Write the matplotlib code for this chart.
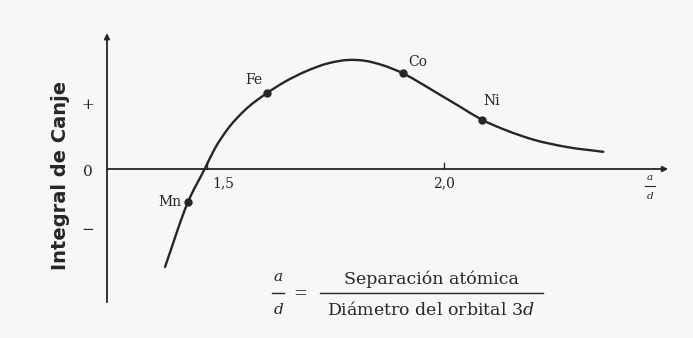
import numpy as np
import matplotlib
matplotlib.use("Agg")
import matplotlib.pyplot as plt
from matplotlib.path import Path
from matplotlib.patches import PathPatch

plt.rcParams["mathtext.fontset"] = "custom"
plt.rcParams["mathtext.it"] = "DejaVu Serif:italic"
plt.rcParams["mathtext.rm"] = "DejaVu Serif"

# Bethe-Slater curve: exchange integral versus a/d
curve_x = [1.4114, 1.4599, 1.4958, 1.5169, 1.5449, 1.5802, 1.6259, 1.6646,
           1.7068, 1.7559, 1.7981, 1.8333, 1.8719, 1.9141, 1.9494, 1.9846,
           2.0338, 2.0795, 2.1323, 2.1884, 2.2589, 2.3361]
curve_y = [-1.420, -0.478, 0.010, 0.300, 0.590, 0.855, 1.097, 1.265,
           1.410, 1.532, 1.580, 1.568, 1.501, 1.384, 1.249, 1.104,
           0.903, 0.716, 0.558, 0.426, 0.319, 0.249]

elements = ["Mn", "Fe", "Co", "Ni"]
elem_x = [1.4599, 1.6259, 1.9141, 2.0795]
elem_y = [-0.478, 1.097, 1.384, 0.716]

x_ticks = [1.5, 2.0]
x_tick_labels = ["1,5", "2,0"]
y_ticks = [0.93, -0.04, -0.88]
y_tick_labels = ["+", "0", "\u2212"]

INK = "#262626"
BG = "#f7f7f5"
SERIF = ["DejaVu Serif"]

fig = plt.figure(figsize=(6.93, 3.38), dpi=100, facecolor=BG)
ax = fig.add_axes([0, 0, 1, 1])
ax.set_facecolor(BG)
ax.set_xlim(1.5 - 207 / 474, 1.5 + 486 / 474)
ax.set_ylim(-2.449, 2.449)
ax.axis("off")

# axes with arrowheads
x0, x1 = 1.289, 2.473
y0, y1 = -1.93, 1.97
ax.annotate("", xy=(x0, y1), xytext=(x0, y0),
            arrowprops=dict(arrowstyle="-|>", color=INK, lw=1.3,
                            mutation_scale=8, shrinkA=0, shrinkB=0))
ax.annotate("", xy=(x1, 0), xytext=(x0, 0),
            arrowprops=dict(arrowstyle="-|>", color=INK, lw=1.3,
                            mutation_scale=8, shrinkA=0, shrinkB=0))

# x ticks (short marks above the axis) and labels
for xt, lab in zip(x_ticks, x_tick_labels):
    ax.plot([xt, xt], [0, 0.08], color=INK, lw=1.0)
    ax.text(xt + (0.035 if xt == 1.5 else 0.0), -0.21, lab, ha="center",
            va="center", fontsize=10, family=SERIF, color=INK)

# y tick labels
for yt, lab in zip(y_ticks, y_tick_labels):
    ax.text(1.249, yt, lab, ha="center", va="center", fontsize=11,
            family=SERIF, color=INK)

ax.text(1.190, -0.10, "Integral de Canje", rotation=90, ha="center", va="center",
        fontsize=14, fontweight="bold", family=["DejaVu Sans"], color=INK)

# a/d label at the end of the x axis
ax.text(2.435, -0.12, "a", ha="center", va="center", fontsize=7.5,
        family=SERIF, style="italic", color=INK)
ax.plot([2.425, 2.445], [-0.25, -0.25], color=INK, lw=0.8)
ax.text(2.435, -0.40, "d", ha="center", va="center", fontsize=7.5,
        family=SERIF, style="italic", color=INK)

# smooth curve: piecewise cubic Hermite in x, written as Bezier segments
xs = np.asarray(curve_x)
ys = np.asarray(curve_y)
h = np.diff(xs)
d = np.diff(ys) / h
s = np.empty_like(ys)
s[0], s[-1] = d[0], d[-1]
s[1:-1] = (h[:-1] * d[1:] + h[1:] * d[:-1]) / (h[:-1] + h[1:])
verts = [(xs[0], ys[0])]
codes = [Path.MOVETO]
for i in range(len(xs) - 1):
    verts += [(xs[i] + h[i] / 3, ys[i] + s[i] * h[i] / 3),
              (xs[i + 1] - h[i] / 3, ys[i + 1] - s[i + 1] * h[i] / 3),
              (xs[i + 1], ys[i + 1])]
    codes += [Path.CURVE4] * 3
ax.add_patch(PathPatch(Path(verts, codes), fill=False, edgecolor=INK,
                       lw=1.7, capstyle="round"))

# element markers and labels
ax.plot(elem_x, elem_y, "o", color=INK, ms=5)
offsets = {"Mn": (-7, 0, "right", "center"),
           "Fe": (-4, 13, "right", "center"),
           "Co": (5, 11, "left", "center"),
           "Ni": (10, 19, "center", "center")}
for name, ex, ey in zip(elements, elem_x, elem_y):
    dx, dy, ha, va = offsets[name]
    ax.annotate(name, (ex, ey), xytext=(dx, dy), textcoords="offset pixels",
                ha=ha, va=va, fontsize=10, family=SERIF, color=INK)

# definition of a/d below the chart
ax.text(1.650, -1.57, "a", ha="center", va="center", fontsize=11,
        family=SERIF, style="italic", color=INK)
ax.plot([1.637, 1.662], [-1.80, -1.80], color=INK, lw=1.0)
ax.text(1.650, -2.04, "d", ha="center", va="center", fontsize=11,
        family=SERIF, style="italic", color=INK)
ax.text(1.696, -1.80, "=", ha="center", va="center", fontsize=12,
        family=SERIF, color=INK)
ax.plot([1.738, 2.209], [-1.80, -1.80], color=INK, lw=1.0)
ax.text(1.973, -1.60, "Separación atómica", ha="center", va="center",
        fontsize=12.5, family=SERIF, color=INK)
ax.text(1.973, -2.04, "Diámetro del orbital 3$\\it{d}$", ha="center",
        va="center", fontsize=12.5, family=SERIF, color=INK)

fig.savefig("out.png", dpi=100, facecolor=BG)
